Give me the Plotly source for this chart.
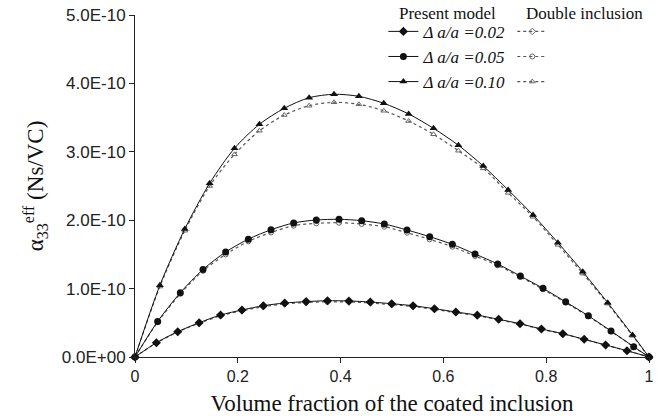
import plotly.graph_objects as go

SCALE = 1e-10

# Volume fraction of the coated inclusion (x) for each series
x_002 = [0, 0.0416, 0.0832, 0.1248, 0.1665, 0.2081, 0.2497, 0.2913, 0.3329, 0.3745,
         0.4162, 0.4578, 0.4994, 0.5410, 0.5826, 0.6242, 0.6659, 0.7075, 0.7491,
         0.7907, 0.8323, 0.8739, 0.9156, 0.9572, 1.0]
x_005 = [0, 0.0441, 0.0882, 0.1323, 0.1764, 0.2205, 0.2646, 0.3087, 0.3528, 0.3969,
         0.4410, 0.4851, 0.5292, 0.5733, 0.6174, 0.6615, 0.7056, 0.7497, 0.7938,
         0.8379, 0.8820, 0.9261, 0.9702, 1.0]
x_010 = [0, 0.0484, 0.0968, 0.1452, 0.1936, 0.2420, 0.2904, 0.3388, 0.3872, 0.4356,
         0.4840, 0.5324, 0.5808, 0.6292, 0.6776, 0.7260, 0.7744, 0.8228, 0.8712,
         0.9196, 0.9680, 1.0]

# Present model (units of 1E-10 Ns/VC)
pm_002 = [0, 0.209, 0.370, 0.501, 0.614, 0.687, 0.750, 0.789, 0.810, 0.823, 0.819,
          0.804, 0.779, 0.750, 0.706, 0.658, 0.612, 0.551, 0.487, 0.409, 0.341,
          0.259, 0.175, 0.092, 0]
pm_005 = [0, 0.52, 0.94, 1.28, 1.535, 1.723, 1.86, 1.96, 2.003, 2.013, 1.993, 1.944,
          1.857, 1.759, 1.647, 1.506, 1.36, 1.184, 1.004, 0.806, 0.602, 0.38, 0.151, 0]
pm_010 = [0, 1.048, 1.871, 2.539, 3.051, 3.402, 3.636, 3.791, 3.841, 3.811, 3.709,
          3.553, 3.343, 3.095, 2.792, 2.442, 2.076, 1.671, 1.247, 0.794, 0.322, 0]

# Double inclusion model (units of 1E-10 Ns/VC)
di_002 = [0, 0.205, 0.365, 0.494, 0.603, 0.675, 0.736, 0.775, 0.797, 0.807, 0.804,
          0.790, 0.766, 0.738, 0.696, 0.649, 0.604, 0.544, 0.482, 0.405, 0.338,
          0.257, 0.174, 0.091, 0]
di_005 = [0, 0.51, 0.925, 1.26, 1.50, 1.69, 1.82, 1.92, 1.954, 1.963, 1.944, 1.905,
          1.817, 1.72, 1.613, 1.477, 1.34, 1.17, 0.99, 0.795, 0.595, 0.375, 0.149, 0]
di_010 = [0, 1.03, 1.846, 2.50, 2.963, 3.308, 3.538, 3.674, 3.724, 3.694, 3.60,
          3.45, 3.256, 3.016, 2.758, 2.40, 2.05, 1.64, 1.22, 0.78, 0.31, 0]

labels = ["Δ a/a =0.02", "Δ a/a =0.05", "Δ a/a =0.10"]
xs = [x_002, x_005, x_010]
pms = [pm_002, pm_005, pm_010]
dis = [di_002, di_005, di_010]
solid_symbols = ["diamond", "circle", "triangle-up"]
open_symbols = ["diamond-open", "circle-open", "triangle-up-open"]

y_tickvals = [0, 1, 2, 3, 4, 5]
y_ticktext = ["0.0E+00", "1.0E-10", "2.0E-10", "3.0E-10", "4.0E-10", "5.0E-10"]
x_tickvals = [0, 0.2, 0.4, 0.6, 0.8, 1]
x_ticktext = ["0", "0.2", "0.4", "0.6", "0.8", "1"]

fig = go.Figure()

for x, d, sym in zip(xs, dis, open_symbols):
    fig.add_trace(go.Scatter(
        x=x, y=[v * SCALE for v in d], mode="lines+markers", name="",
        line=dict(color="#555555", width=1.2, dash="dot", shape="spline", smoothing=0.8),
        marker=dict(symbol=sym, size=5, color="#666666", line=dict(width=1, color="#666666")),
        legend="legend2", cliponaxis=False, showlegend=True))

for x, p, sym, lab in zip(xs, pms, solid_symbols, labels):
    fig.add_trace(go.Scatter(
        x=x, y=[v * SCALE for v in p], mode="lines+markers", name="<i>" + lab + "</i>",
        line=dict(color="#111111", width=1, shape="spline", smoothing=0.8),
        marker=dict(symbol=sym, size=7, color="#111111"),
        legend="legend", cliponaxis=False, showlegend=True))

serif = "Liberation Serif, Times New Roman, serif"
sans = "Liberation Sans, Arial, sans-serif"

fig.update_layout(
    width=661, height=419,
    margin=dict(l=135, r=12, t=15, b=62, autoexpand=False),
    paper_bgcolor="white", plot_bgcolor="white",
    showlegend=True,
    legend=dict(xref="container", yref="container", x=0.580, y=0.967,
                xanchor="left", yanchor="top",
                font=dict(family=serif, size=17, color="#111111"),
                bgcolor="rgba(0,0,0,0)", tracegroupgap=0, itemwidth=30),
    legend2=dict(xref="container", yref="container", x=0.775, y=0.967,
                 xanchor="left", yanchor="top",
                 font=dict(family=serif, size=17, color="#111111"),
                 bgcolor="rgba(0,0,0,0)", tracegroupgap=0, itemwidth=30),
    xaxis=dict(range=[0, 1], tickvals=x_tickvals, ticktext=x_ticktext, automargin=False,
               showgrid=False, zeroline=False, showline=True, linecolor="#222222",
               linewidth=1, ticks="outside", ticklen=5, tickcolor="#222222",
               tickfont=dict(family=sans, size=16, color="#222222"),
               title=dict(text="Volume fraction of the coated inclusion",
                          font=dict(family=serif, size=23, color="#111111"), standoff=10)),
    yaxis=dict(range=[0, 5 * SCALE], tickvals=[v * SCALE for v in y_tickvals],
               ticktext=y_ticktext, automargin=False,
               showgrid=False, zeroline=False, showline=True, linecolor="#222222",
               linewidth=1, ticks="outside", ticklen=5, tickcolor="#222222",
               tickfont=dict(family=sans, size=17, color="#222222"),
               title=dict(text="α<sub>33</sub><sup>eff</sup> (Ns/VC)",
                          font=dict(family=serif, size=23, color="#111111"), standoff=11)),
    annotations=[
        dict(text="Present model", xref="paper", yref="paper", x=0.509, y=1.003,
             xanchor="left", yanchor="middle", showarrow=False,
             font=dict(family=serif, size=17, color="#111111")),
        dict(text="Double inclusion", xref="paper", yref="paper", x=0.757, y=1.003,
             xanchor="left", yanchor="middle", showarrow=False,
             font=dict(family=serif, size=17, color="#111111")),
    ],
)

fig.write_html("out.html")
